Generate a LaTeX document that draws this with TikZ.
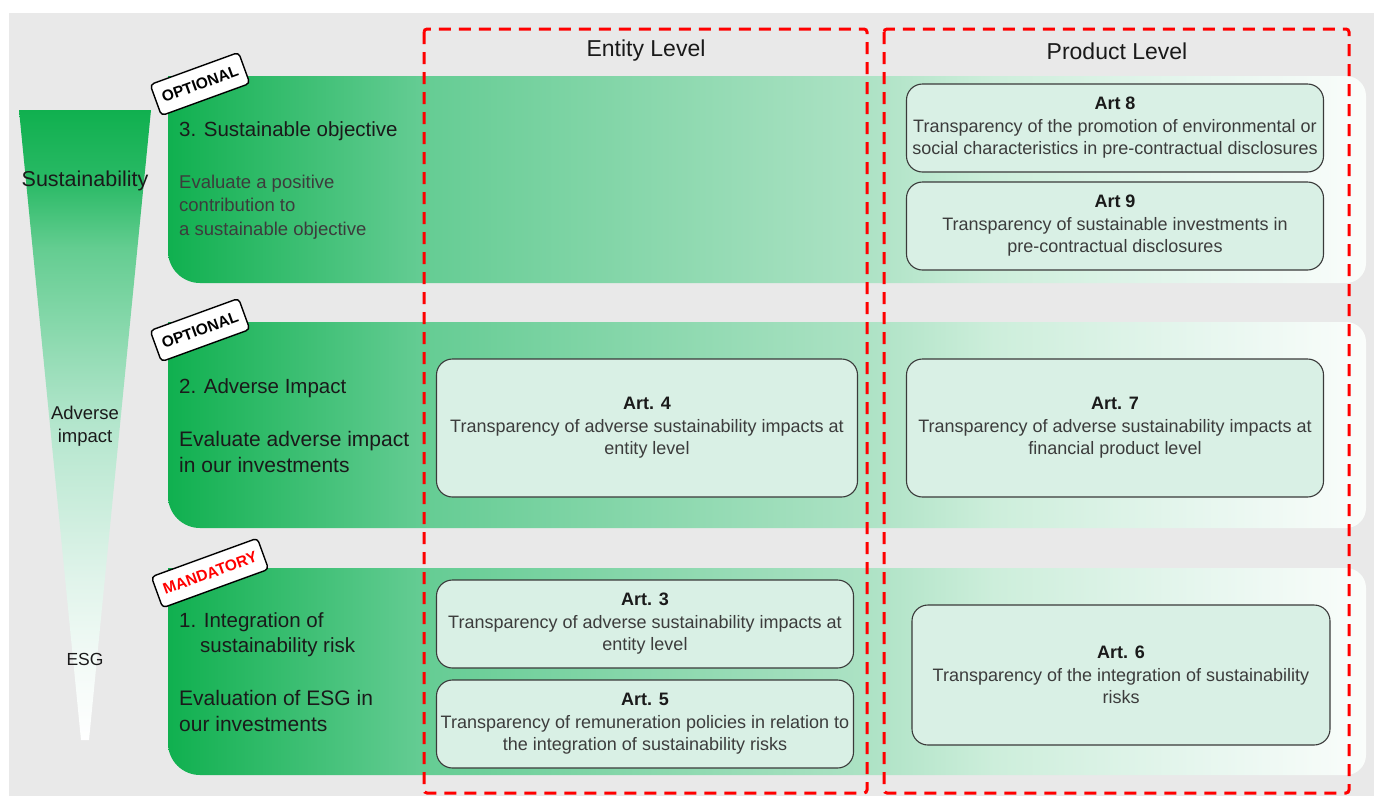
\documentclass[tikz,border=0pt]{standalone}
\usepackage{fontspec}
\setmainfont{Liberation Sans}
\definecolor{bggray}{RGB}{233,233,233}
\definecolor{gA}{RGB}{16,176,79}
\definecolor{gB}{RGB}{100,204,147}
\definecolor{gC}{RGB}{172,226,196}
\definecolor{gD}{RGB}{205,238,219}
\definecolor{gE}{RGB}{230,246,238}
\definecolor{gF}{RGB}{250,253,251}
\definecolor{fA}{RGB}{40,185,100}
\definecolor{fB}{RGB}{100,205,145}
\definecolor{fC}{RGB}{180,230,205}
\definecolor{fD}{RGB}{225,244,235}
\definecolor{fE}{RGB}{242,250,246}
\definecolor{artfill}{RGB}{217,240,229}
\definecolor{artborder}{RGB}{58,58,58}
\definecolor{txt}{RGB}{26,26,26}
\definecolor{arttxt}{RGB}{60,60,60}
\definecolor{dashred}{RGB}{255,0,0}
\pgfdeclarehorizontalshading{rowshade}{100bp}{color(0bp)=(gA); color(25bp)=(gA); color(35.5bp)=(gB); color(54bp)=(gC); color(59.5bp)=(gD); color(68bp)=(gE); color(75bp)=(gF); color(100bp)=(gF)}
\pgfdeclareverticalshading{funnelshade}{100bp}{color(0bp)=(white); color(25bp)=(white); color(31.5bp)=(fE); color(37.5bp)=(fD); color(50bp)=(fC); color(64bp)=(fB); color(69.5bp)=(fA); color(75bp)=(gA); color(100bp)=(gA)}
\newcommand\myfs[2]{\fontsize{#1}{#2}\selectfont}
\begin{document}
\begin{tikzpicture}[x=1pt,y=-1pt,
  badge/.style={draw=black, line width=1.4pt, fill=white, rounded corners=4pt, rotate=20,
    font=\bfseries\myfs{15.5}{15.5}, inner xsep=7pt, inner ysep=0pt, minimum height=33pt},
  rowtitle/.style={anchor=west, inner sep=0pt, align=left, text=txt, font=\myfs{20.5}{25}},
  rowdesc/.style={anchor=west, inner sep=0pt, align=left, text=txt, font=\myfs{21}{26.5}},
  art/.style={draw=artborder, line width=1.1pt, fill=artfill, rounded corners=16pt,
    align=center, text=arttxt, font=\myfs{18}{22.5}, inner sep=0pt},
  head/.style={text=txt, font=\myfs{23}{23}, inner sep=0pt},
  flabel/.style={text=txt, align=center, inner sep=0pt},
  reddash/.style={draw=dashred, line width=3pt, dash pattern=on 12pt off 8pt, rounded corners=3pt}]
\useasboundingbox (0,0) rectangle (1374,796);
\fill[white] (0,0) rectangle (1374,796);
\fill[bggray] (9,13) rectangle (1374,796);
% funnel
\shade[shading=funnelshade] (19,110) -- (151,110) -- (89,740) -- (81,740) -- cycle;
\node[flabel, font=\myfs{21.5}{21.5}] (fsus) at (85,181) {Sustainability};
\node[flabel, font=\myfs{18.5}{23}] (fadv) at (85,426) {Adverse\\impact};
\node[flabel, font=\myfs{17.5}{17.5}] (fesg) at (85,659) {ESG};
% rows
\foreach \t/\b in {76/283, 322/528, 568/775}{
  \shade[shading=rowshade] (168,\t) [rounded corners=20pt] -- (1366,\t) -- (1366,\b) [rounded corners=32pt] -- (168,\b) [sharp corners] -- cycle;
}
% badges
\node[badge] (b3) at (200,84) {OPTIONAL};
\node[badge] (b2) at (200,330) {OPTIONAL};
\node[badge, text=dashred] (b1) at (210,573) {MANDATORY};
% row texts
\node[rowtitle] (r3t) at (179,131) {3. Sustainable objective};
\node[rowtitle, font=\myfs{18.5}{23.5}, text=txt!85] (r3d) at (179,207) {Evaluate a positive\\contribution to\\a sustainable objective};
\node[rowtitle] (r2t) at (179,388) {2. Adverse Impact};
\node[rowdesc] (r2d) at (179,452) {Evaluate adverse impact\\in our investments};
\node[rowtitle] (r1t) at (179,635) {1. Integration of\\\hspace*{21pt}sustainability risk};
\node[rowdesc] (r1d) at (179,711) {Evaluation of ESG in\\our investments};
% headers
\node[head] (hent) at (646,51) {Entity Level};
\node[head] (hprod) at (1117,51) {Product Level};
% article boxes
\node[art, minimum width=417pt, minimum height=88pt] (a8) at (1115,128)
  {{\bfseries\color{txt}Art 8}\\Transparency of the promotion of environmental or\\social characteristics in pre-contractual disclosures};
\node[art, minimum width=417pt, minimum height=88pt] (a9) at (1115,226)
  {{\bfseries\color{txt}Art 9}\\Transparency of sustainable investments in\\pre-contractual disclosures};
\node[art, minimum width=421pt, minimum height=138pt] (a4) at (647,428)
  {{\bfseries\color{txt}Art. 4}\\Transparency of adverse sustainability impacts at\\entity level};
\node[art, minimum width=417pt, minimum height=138pt] (a7) at (1115,428)
  {{\bfseries\color{txt}Art. 7}\\Transparency of adverse sustainability impacts at\\financial product level};
\node[art, minimum width=417pt, minimum height=88pt] (a3) at (645,624)
  {{\bfseries\color{txt}Art. 3}\\Transparency of adverse sustainability impacts at\\entity level};
\node[art, minimum width=417pt, minimum height=88pt] (a5) at (645,724)
  {{\bfseries\color{txt}Art. 5}\\Transparency of remuneration policies in relation to\\the integration of sustainability risks};
\node[art, minimum width=418pt, minimum height=140pt] (a6) at (1121,675)
  {{\bfseries\color{txt}Art. 6}\\Transparency of the integration of sustainability\\risks};
% red dashed frames
\draw[reddash] (424,29) rectangle (867,793);
\draw[reddash] (884,29) rectangle (1349,793);
\end{tikzpicture}
\end{document}
